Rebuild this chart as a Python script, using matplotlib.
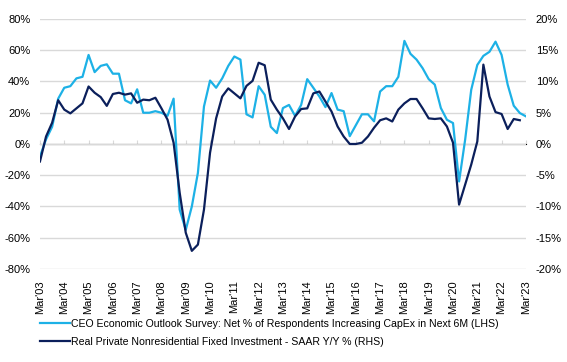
import numpy as np
import matplotlib
matplotlib.use("Agg")
import matplotlib.pyplot as plt
from matplotlib.ticker import FuncFormatter

plt.rcParams['font.family'] = ['Liberation Sans', 'DejaVu Sans']

# Quarterly data, Mar'03 .. Mar'23
ceo_capex = [
    -8, 3, 11, 29, 36, 37, 42, 43, 57, 46, 50, 51, 45, 45, 28, 26,
    35, 20, 20, 21, 20, 18, 29, -42, -55, -40, -18.5, 24, 40.6, 36, 42, 50,
    56, 54, 19, 17, 37, 31.5, 11, 7, 23, 25, 18, 25, 41.5, 36, 30.4, 23.6,
    32.6, 22, 21, 5, 12, 19, 19, 14.5, 33.6, 37, 37, 43, 66, 57.7, 54, 48.5,
    41.5, 38, 23, 15.5, 13.4, -24, 2.8, 34.7, 50.6, 56.4, 59, 65.5, 57, 38, 24.5, 19.8,
    17.7,
]
fixed_inv = [
    -2.8, 1.2, 3.4, 7.0, 5.5, 4.9, 5.7, 6.5, 9.2, 8.2, 7.5, 6.1, 8.0, 8.2, 7.9, 8.1,
    6.6, 7.1, 7.0, 7.4, 5.7, 3.9, 0.2, -7.8, -14.2, -17.1, -16.1, -10.5, -1.4, 4.1, 7.6, 8.9,
    8.1, 7.3, 9.3, 10.1, 13.0, 12.6, 7.1, 5.5, 4.1, 2.4, 4.4, 5.6, 5.7, 8.1, 8.4, 6.8,
    5.2, 2.8, 1.2, 0.0, 0.0, 0.2, 1.2, 2.6, 3.8, 4.1, 3.6, 5.5, 6.5, 7.2, 7.2, 5.7,
    4.1, 4.0, 4.1, 2.8, 0.2, -9.7, -6.5, -3.3, 0.4, 12.7, 7.6, 5.1, 4.8, 2.4, 4.0, 3.8,
]
years = list(range(2003, 2024))
tick_labels = ["Mar'%02d" % (y % 100) for y in years]

label_ceo = "CEO Economic Outlook Survey: Net % of Respondents Increasing CapEx in Next 6M (LHS)"
label_inv = "Real Private Nonresidential Fixed Investment - SAAR Y/Y % (RHS)"

light = '#1DB1E6'
dark = '#0B1F5B'
grid = '#D9D9D9'
fs = 8

fig = plt.figure(figsize=(5.67, 3.62), dpi=100)
ax = fig.add_axes([0.0705, 0.257, 0.857, 0.6905])
ax2 = ax.twinx()

x1 = np.arange(len(ceo_capex))
x2 = np.arange(len(fixed_inv))
l1, = ax.plot(x1, ceo_capex, color=light, lw=1.6, label=label_ceo, zorder=3)
l2, = ax2.plot(x2, fixed_inv, color=dark, lw=1.6, label=label_inv, zorder=3)

ax.set_xlim(0, 80)
ax.set_ylim(-80, 80)
ax2.set_ylim(-20, 20)
ax.set_yticks(np.arange(-80, 81, 20))
ax2.set_yticks(np.arange(-20, 21, 5))
ax.yaxis.set_major_formatter(FuncFormatter(lambda v, p: '%d%%' % v))
ax2.yaxis.set_major_formatter(FuncFormatter(lambda v, p: '%d%%' % v))

ax.set_xticks(np.arange(0, 81, 4))
ax.set_xticklabels(tick_labels, rotation=90, fontsize=fs)
ax.tick_params(axis='x', length=0, pad=8)
ax.tick_params(axis='y', length=0, pad=7, labelsize=fs)
ax2.tick_params(axis='y', length=0, pad=7, labelsize=fs)

ax.grid(axis='y', color=grid, lw=1)
ax.set_axisbelow(True)
for a in (ax, ax2):
    for s in a.spines.values():
        s.set_visible(False)

# category axis crossing at 0%
sec = ax.secondary_xaxis(0.5)
sec.set_xticks(np.arange(0, 81, 4))
sec.set_xticklabels([])
sec.tick_params(axis='x', length=3, color=grid, direction='out')
sec.spines['bottom'].set_color(grid)

fig.legend(handles=[l1, l2], loc='upper left', bbox_to_anchor=(0.07, 0.12),
           frameon=False, fontsize=7.6, handlelength=2.9, handletextpad=0.1,
           labelspacing=0.8, borderaxespad=0, borderpad=0)

fig.savefig('out.png', dpi=100)
